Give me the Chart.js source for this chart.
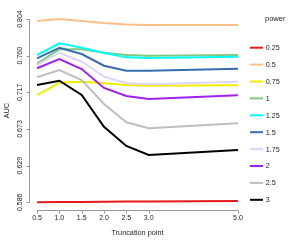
<!DOCTYPE html>
<html>
<head>
<meta charset="utf-8">
<script src="https://cdn.jsdelivr.net/npm/chart.js@4"></script>
<style>
  html, body { margin: 0; padding: 0; background: #fff; }
  #wrap { width: 300px; height: 240px; }
</style>
</head>
<body>
<div id="wrap"><canvas id="chart" width="300" height="240"></canvas></div>
<script>
// truncation points on the x axis
const truncation = [0.5, 1.0, 1.5, 2.0, 2.5, 3.0, 5.0];
const xTicks = ['0.5', '1.0', '1.5', '2.0', '2.5', '3.0', '5.0'];
const yTicks = ['0.586', '0.629', '0.673', '0.717', '0.760', '0.804'];
const powers = ['0.25', '0.5', '0.75', '1', '1.25', '1.5', '1.75', '2', '2.5', '3'];

// AUC per power, one value per truncation point
const auc025 = [0.5860, 0.5862, 0.5864, 0.5866, 0.5868, 0.5870, 0.5875];
const auc05  = [0.8016, 0.8040, 0.8016, 0.7992, 0.7975, 0.7969, 0.7969];
const auc075 = [0.7136, 0.7282, 0.7294, 0.7275, 0.7255, 0.7247, 0.7251];
const auc1   = [0.7511, 0.7680, 0.7680, 0.7639, 0.7612, 0.7604, 0.7612];
const auc125 = [0.7612, 0.7751, 0.7699, 0.7636, 0.7584, 0.7576, 0.7592];
const auc15  = [0.7573, 0.7699, 0.7624, 0.7485, 0.7425, 0.7425, 0.7449];
const auc175 = [0.7493, 0.7639, 0.7532, 0.7354, 0.7275, 0.7263, 0.7294];
const auc2   = [0.7454, 0.7564, 0.7445, 0.7220, 0.7124, 0.7089, 0.7133];
const auc25  = [0.7347, 0.7433, 0.7314, 0.7030, 0.6811, 0.6740, 0.6800];
const auc3   = [0.7255, 0.7306, 0.7136, 0.6759, 0.6530, 0.6422, 0.6482];

const series = [auc025, auc05, auc075, auc1, auc125, auc15, auc175, auc2, auc25, auc3];
const colors = ['#e41a1c', '#fdbf86', '#eeee00', '#7fc97f', '#00ffff',
                '#386cb0', '#ded2ff', '#a020f0', '#bebebe', '#000000'];

const yMin = 0.586, yMax = 0.804;
const yPad = (yMax - yMin) * 0.04;
const xPad = (5.0 - 0.5) * 0.04;

const FONT = '"Liberation Sans", Arial, sans-serif';

const rAxes = {
    id: 'rAxes',
    afterDraw(chart) {
        const ctx = chart.ctx;
        const xs = chart.scales.x, ys = chart.scales.y;
        const area = chart.chartArea;
        ctx.save();
        ctx.strokeStyle = '#999';
        ctx.lineWidth = 1;

        // x axis
        const yb = Math.round(area.bottom) + 0.5;
        ctx.beginPath();
        ctx.moveTo(xs.getPixelForValue(truncation[0]), yb);
        ctx.lineTo(xs.getPixelForValue(truncation[truncation.length - 1]), yb);
        truncation.forEach(v => {
            const px = Math.round(xs.getPixelForValue(v)) + 0.5;
            ctx.moveTo(px, yb);
            ctx.lineTo(px, yb + 3);
        });
        ctx.stroke();

        ctx.fillStyle = '#222';
        ctx.font = '7px ' + FONT;
        ctx.textAlign = 'center';
        ctx.textBaseline = 'middle';
        truncation.forEach((v, i) => {
            ctx.fillText(xTicks[i], xs.getPixelForValue(v), 218);
        });
        ctx.font = '7.3px ' + FONT;
        ctx.fillText('Truncation point', (area.left + area.right) / 2, 233);

        // y axis
        const xl = Math.round(area.left) + 0.5;
        const step = (yMax - yMin) / (yTicks.length - 1);
        ctx.beginPath();
        ctx.moveTo(xl, ys.getPixelForValue(yMin));
        ctx.lineTo(xl, ys.getPixelForValue(yMax));
        yTicks.forEach((t, i) => {
            const py = Math.round(ys.getPixelForValue(yMin + i * step)) + 0.5;
            ctx.moveTo(xl, py);
            ctx.lineTo(xl - 3, py);
        });
        ctx.stroke();

        ctx.font = '7px ' + FONT;
        yTicks.forEach((t, i) => {
            const py = ys.getPixelForValue(yMin + i * step);
            ctx.save();
            ctx.translate(20, py);
            ctx.rotate(-Math.PI / 2);
            ctx.fillText(t, 0, 0);
            ctx.restore();
        });
        ctx.save();
        ctx.translate(7, (area.top + area.bottom) / 2);
        ctx.rotate(-Math.PI / 2);
        ctx.font = '7.3px ' + FONT;
        ctx.fillText('AUC', 0, 0);
        ctx.restore();

        // legend
        ctx.textAlign = 'left';
        ctx.font = '7.5px ' + FONT;
        ctx.fillText('power', 265, 18.5);
        ctx.font = '7.2px ' + FONT;
        powers.forEach((p, i) => {
            const py = 47.7 + i * 16.9;
            ctx.strokeStyle = colors[i];
            ctx.lineWidth = 2;
            ctx.beginPath();
            ctx.moveTo(250, py);
            ctx.lineTo(263, py);
            ctx.stroke();
            ctx.fillStyle = '#222';
            ctx.fillText(p, 265.7, py + 0.5);
        });
        ctx.restore();
    }
};

new Chart(document.getElementById('chart').getContext('2d'), {
    type: 'line',
    data: {
        datasets: series.map((vals, i) => ({
            label: powers[i],
            data: vals.map((v, j) => ({ x: truncation[j], y: v })),
            borderColor: colors[i],
            borderWidth: 2,
            pointRadius: 0,
            tension: 0,
            fill: false,
            order: -i
        }))
    },
    options: {
        responsive: false,
        animation: false,
        layout: { padding: { left: 29, right: 54, top: 11.7, bottom: 30.4 } },
        scales: {
            x: { type: 'linear', min: 0.5 - xPad, max: 5.0 + xPad, display: false },
            y: { type: 'linear', min: yMin - yPad, max: yMax + yPad, display: false }
        },
        plugins: {
            legend: { display: false },
            tooltip: { enabled: false }
        }
    },
    plugins: [rAxes]
});
</script>
</body>
</html>
